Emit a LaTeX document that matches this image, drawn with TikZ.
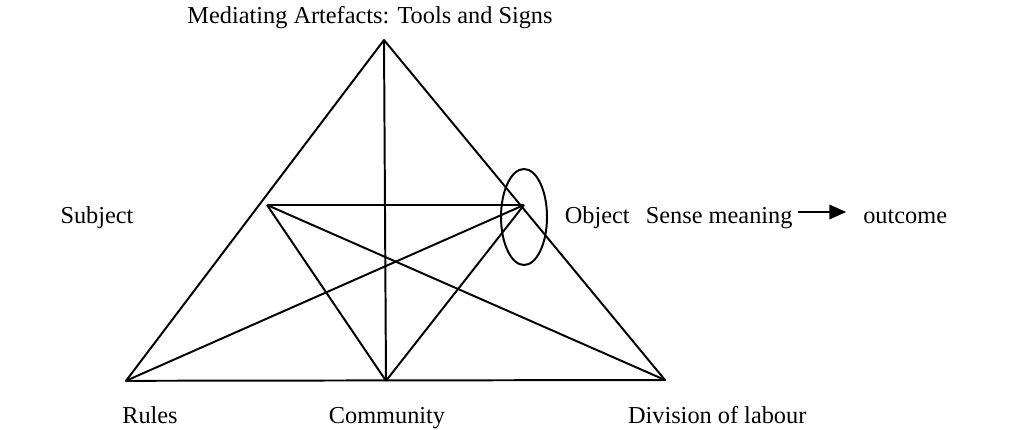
\documentclass[tikz,border=0pt]{standalone}
\usepackage{fontspec}
\setmainfont{Liberation Serif}
\usepackage{tikz}
\usetikzlibrary{positioning, arrows.meta}

\begin{document}
\begin{tikzpicture}[
    edge/.style={line width=1.4pt, line join=round},
    lbl/.style={font=\fontsize{17.3}{20}\selectfont, inner sep=0pt, anchor=base}
  ]
  \useasboundingbox (0,0) rectangle (25.4,-10.725);
  % -- corners --
  \coordinate (top) at (9.6,-1.0);
  \coordinate (bl) at (3.15,-9.52);
  \coordinate (bm) at (9.65,-9.52);
  \coordinate (br) at (16.625,-9.5);
  \coordinate (il) at (6.675,-5.125);
  \coordinate (ir) at (13.1,-5.125);
  % -- triangle --
  \draw[edge] (top)--(bl)--(br)--cycle;
  \draw[edge] (top)--(bm);
  \draw[edge] (il)--(ir);
  \foreach \a/\b in {il/bm, il/br, ir/bm, ir/bl}{ \draw[edge] (\a)--(\b); }
  \draw[edge] (ir) ++(0,-0.3) ellipse[x radius=0.575, y radius=1.2];
  % -- labels --
  \node[lbl] (med) at (9.25,-0.575) {Mediating Artefacts: Tools and Signs};
  \node[lbl] (subj) at (2.425,-5.575) {Subject};
  \node[lbl] (obj) at (14.93,-5.575) {Object};
  \node[lbl] (sense) at (17.98,-5.575) {Sense meaning};
  \node[lbl] (out) at (22.63,-5.575) {outcome};
  \node[lbl] (rules) at (3.75,-10.575) {Rules};
  \node[lbl] (comm) at (9.675,-10.575) {Community};
  \node[lbl] (div) at (17.93,-10.575) {Division of labour};
  \draw[edge, -{Triangle[length=0.42cm, width=0.36cm]}, shorten <=0.12cm, shorten >=0.42cm]
    (sense.east |- 0,-5.3) -- (out.west |- 0,-5.3);
\end{tikzpicture}
\end{document}
